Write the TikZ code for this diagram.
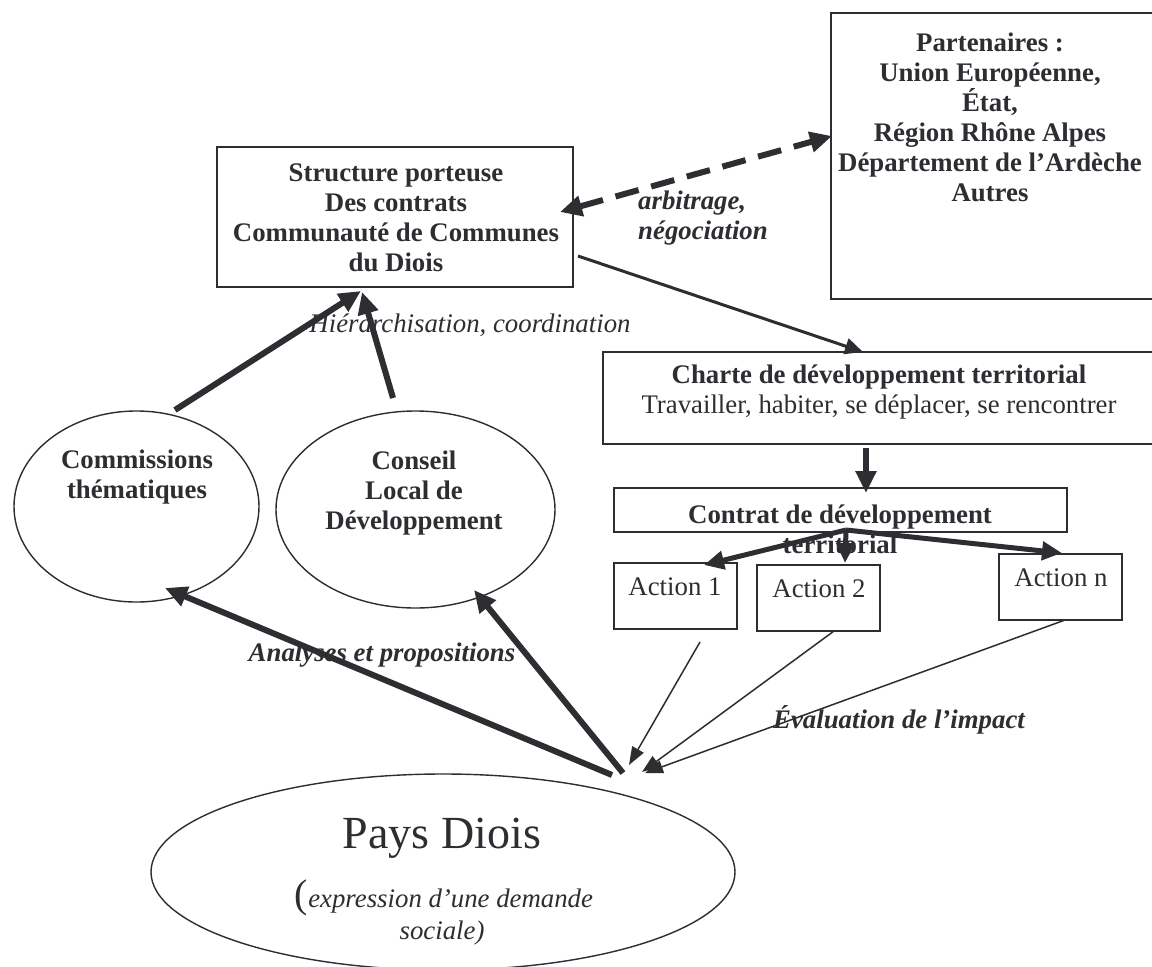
\documentclass[tikz,border=0pt]{standalone}
\usepackage{fontspec}
\setmainfont{Liberation Serif}
\usetikzlibrary{arrows.meta,shapes.geometric,calc}
\definecolor{ink}{RGB}{45,45,50}
\begin{document}
\begin{tikzpicture}[x=1pt,y=-1pt,
  every node/.style={text=ink},
  box/.style={draw=ink, line width=2pt, inner sep=0pt, rectangle},
  oval/.style={draw=ink, line width=1.4pt, ellipse, inner sep=0pt},
  txt/.style={font=\fontsize{26.8}{30}\selectfont, align=center, inner sep=0pt},
  bt/.style={txt, font=\fontsize{26.8}{30}\selectfont\bfseries},
  it/.style={txt, font=\fontsize{26.8}{30}\selectfont\itshape},
  bit/.style={txt, font=\fontsize{26.8}{30}\selectfont\bfseries\itshape},
  heavy/.style={draw=ink, line width=6pt, -{Triangle[length=22pt,width=20pt]}},
  medium/.style={draw=ink, line width=3pt, -{Triangle[length=18pt,width=16pt]}},
  light/.style={draw=ink, line width=1.5pt, -{Triangle[length=18pt,width=13pt]}},
  dashedarrow/.style={draw=ink, line width=6pt, dash pattern=on 24pt off 13pt,
     {Triangle[length=22pt,width=20pt]}-{Triangle[length=22pt,width=20pt]}}
]
\useasboundingbox (0,0) rectangle (1152,967);
\clip (0,0) rectangle (1152,967);
\fill[white] (0,0) rectangle (1152,967);

% boxes
\node[box, minimum width=356pt, minimum height=140pt] (struct) at (395,217) {};
\node[bt] (structtxt) at (396,217.5) {Structure porteuse\\Des contrats\\Communauté de Communes\\du Diois};

\node[box, minimum width=324pt, minimum height=286pt] (part) at (993,156) {};
\node[bt] (parttxt) at (990,117) {Partenaires :\\Union Européenne,\\État,\\Région Rhône Alpes\\Département de l’Ardèche\\Autres};

\node[box, minimum width=552pt, minimum height=92pt] (charte) at (879,398) {};
\node[txt] (chartetxt) at (879,392) {\textbf{Charte de développement territorial}\\Travailler, habiter, se déplacer, se rencontrer};

\node[box, minimum width=453pt, minimum height=44pt] (contrat) at (840.5,510) {};
\node[bt] (contrattxt) at (840,529) {Contrat de développement\\territorial};

\node[box, minimum width=123pt, minimum height=66pt] (a1) at (675.5,596) {};
\node[txt] (a1txt) at (675,587) {Action 1};
\node[box, minimum width=123pt, minimum height=66pt] (a2) at (818.5,598) {};
\node[txt] (a2txt) at (819,589) {Action 2};
\node[box, minimum width=123pt, minimum height=66pt] (an) at (1060.5,587) {};
\node[txt] (antxt) at (1061,578) {Action n};

% ellipses
\node[oval, minimum width=245pt, minimum height=191pt] (comm) at (136.5,506.5) {};
\node[bt] (commtxt) at (137,477) {Commissions\\thématiques};
\node[oval, minimum width=279pt, minimum height=197pt] (cons) at (415.5,509.5) {};
\node[bt] (constxt) at (414,493) {Conseil\\Local de\\Développement};
\node[oval, minimum width=584pt, minimum height=196pt] (pays) at (443,872) {};
\node[txt, font=\fontsize{46}{50}\selectfont] (paystxt) at (442,838) {Pays Diois};
\node[txt] (paysexp) at (444,898) {{\fontsize{40}{40}\selectfont(}\textit{expression d’une demande}};
\node[it] (payssoc) at (442,933) {sociale)};

% labels
\node[it] (hier) at (470,325) {Hiérarchisation, coordination};
\node[bit, align=left, anchor=west] (arb) at (638,218.5) {arbitrage,\\négociation};
\node[bit] (anal) at (382,655) {Analyses et propositions};
\node[bit] (eval) at (899,720) {Évaluation de l’impact};

% convergence points above Pays Diois
\coordinate (p1) at ($(pays)+(169,-97)$);
\coordinate (p2) at ($(pays)+(180,-99)$);
\coordinate (p3) at ($(pays)+(186,-107)$);
\coordinate (p4) at ($(pays)+(199,-100)$);
\coordinate (p5) at ($(pays)+(202,-99)$);

% connectors
\draw[heavy] ($(comm)+(38.5,-96.5)$) -- ($(struct)+(-34,74)$);
\draw[heavy] ($(cons)+(-22.5,-111.5)$) -- ($(struct)+(-33,75)$);
\draw[medium] ($(struct)+(183,39)$) -- ($(charte)+(-16,-46)$);
\draw[dashedarrow] ($(struct)+(165,-5)$) -- ($(part)+(-161,-20)$);
\draw[heavy] ($(charte)+(-13,50)$) -- ($(contrat)+(25.5,-17)$);
\draw[draw=ink, line width=5pt, -{Triangle[length=20pt,width=18pt]}] ($(contrat)+(5.5,20)$) -- ($(a1)+(28.5,-31)$);
\draw[draw=ink, line width=5pt, -{Triangle[length=20pt,width=18pt]}] ($(contrat)+(5.5,20)$) -- ($(a2)+(26.5,-35)$);
\draw[draw=ink, line width=5pt, -{Triangle[length=20pt,width=18pt]}] ($(contrat)+(5.5,20)$) -- ($(an)+(1.5,-34)$);
\draw[heavy] (p1) -- ($(comm)+(28.5,81.5)$);
\draw[heavy] (p2) -- ($(cons)+(58.5,80.5)$);
\draw[light] ($(a1)+(24.5,46)$) -- (p3);
\draw[light] ($(a2)+(15.5,33)$) -- (p4);
\draw[light] ($(an)+(4.5,33)$) -- (p5);
\end{tikzpicture}
\end{document}
